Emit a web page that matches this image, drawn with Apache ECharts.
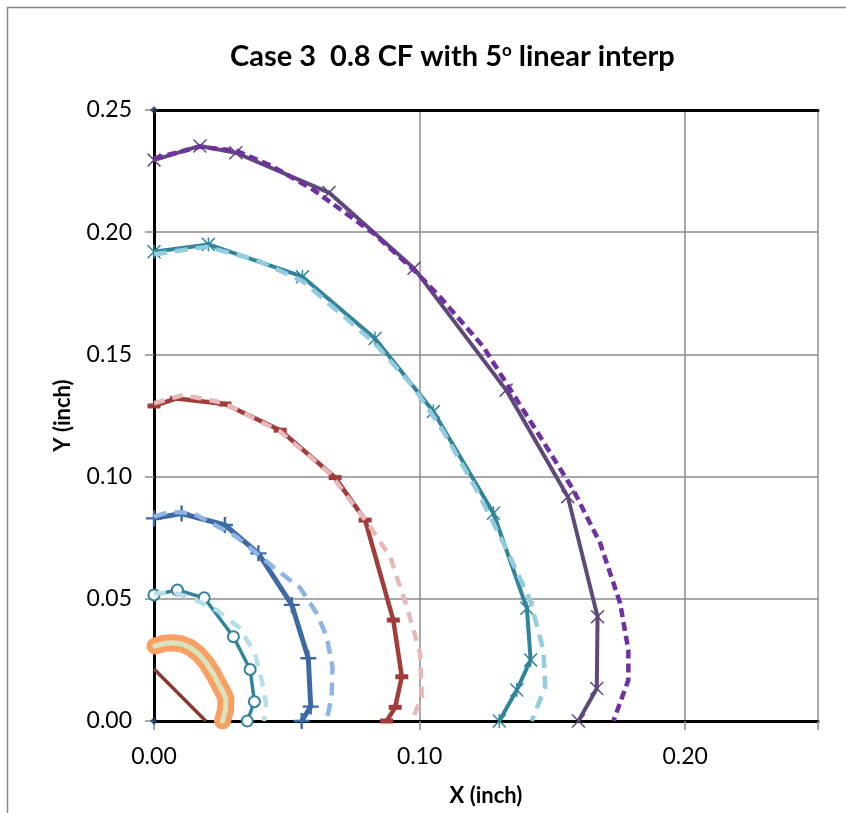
<!DOCTYPE html>
<html>
<head>
<meta charset="utf-8">
<script src="https://cdn.jsdelivr.net/npm/echarts@6/dist/echarts.min.js"></script>
<style>
  html, body { margin: 0; padding: 0; background: #fff; overflow: hidden; }
  #chart { width: 846px; height: 813px; }
</style>
</head>
<body>
<div id="chart"></div>
<script>
// Axis ticks
const xTicks = [0, 0.10, 0.20];
const yTicks = [0, 0.05, 0.10, 0.15, 0.20, 0.25];

// Reference corner points on the Y axis
const originMarks = [[0, 0], [0, 0.25]];

// Innermost straight chord
const chordLine = [[0, 0.0213], [0.0195, 0]];

// Smallest contour (thick band)
const innerBand = [[0.0004, 0.0307], [0.0040, 0.0318], [0.0073, 0.0320], [0.0105, 0.0315],
  [0.0136, 0.0301], [0.0168, 0.0274], [0.0198, 0.0236], [0.0222, 0.0195],
  [0.0242, 0.0154], [0.0260, 0.0118], [0.0271, 0.0090], [0.0269, 0.0045], [0.0258, 0]];

// Contour 2 : computed (circles) and reference (dashed)
const ring2Calc = [[0, 0.0516], [0.0088, 0.0536], [0.0189, 0.0504], [0.0299, 0.0345],
  [0.0362, 0.0211], [0.0378, 0.0079], [0.0351, 0]];
const ring2Ref = [[0, 0.0522], [0.0073, 0.0525], [0.0136, 0.0505], [0.0236, 0.0454],
  [0.0324, 0.0379], [0.0380, 0.0277], [0.0405, 0.0168], [0.0422, 0.0072], [0.0414, 0]];

// Contour 3 : computed (plus) and reference (dashed)
const ring3Calc = [[0, 0.0829], [0.0104, 0.0849], [0.0267, 0.0802], [0.0393, 0.0686],
  [0.0519, 0.0475], [0.0581, 0.0257], [0.0590, 0.0059], [0.0556, 0]];
const ring3Ref = [[0, 0.0836], [0.0060, 0.0856], [0.0148, 0.0850], [0.0311, 0.0754],
  [0.0449, 0.0630], [0.0550, 0.0545], [0.0613, 0.0440], [0.0650, 0.0345],
  [0.0672, 0.0222], [0.0669, 0.0101], [0.0650, 0]];

// Contour 4 : computed (dash) and reference (dashed)
const ring4Calc = [[0, 0.1289], [0.0085, 0.1320], [0.0267, 0.1297], [0.0475, 0.1190],
  [0.0682, 0.0996], [0.0795, 0.0822], [0.0901, 0.0413], [0.0933, 0.0181],
  [0.0908, 0.0056], [0.0876, 0]];
const ring4Ref = [[0, 0.1300], [0.0110, 0.1334], [0.0261, 0.1302], [0.0475, 0.1184],
  [0.0663, 0.1012], [0.0738, 0.0904], [0.0814, 0.0795], [0.0889, 0.0672],
  [0.0952, 0.0468], [0.1002, 0.0277], [0.1008, 0.0099], [0.0970, 0]];

// Contour 5 : computed (star) and reference (dashed)
const ring5Calc = [[0, 0.1920], [0.0205, 0.1950], [0.0559, 0.1818], [0.0832, 0.1565],
  [0.1052, 0.1266], [0.1278, 0.0850], [0.1404, 0.0461], [0.1418, 0.0250],
  [0.1366, 0.0127], [0.1300, 0]];
const ring5Ref = [[0, 0.1910], [0.0198, 0.1940], [0.0387, 0.1886], [0.0562, 0.1798],
  [0.0826, 0.1551], [0.0977, 0.1367], [0.1090, 0.1184], [0.1215, 0.0945],
  [0.1328, 0.0700], [0.1416, 0.0495], [0.1466, 0.0290], [0.1473, 0.0140], [0.1422, 0]];

// Contour 6 : computed (x) and reference (dashed)
const ring6Calc = [[0, 0.2295], [0.0173, 0.2353], [0.0308, 0.2325], [0.0659, 0.2162],
  [0.0979, 0.1852], [0.1326, 0.1354], [0.1558, 0.0918], [0.1670, 0.0427],
  [0.1667, 0.0133], [0.1598, 0]];
const ring6Ref = [[0, 0.2302], [0.0173, 0.2350], [0.0311, 0.2333], [0.0449, 0.2268],
  [0.0600, 0.2173], [0.0826, 0.1996], [0.0979, 0.1845], [0.1077, 0.1735],
  [0.1240, 0.1531], [0.1454, 0.1163], [0.1579, 0.0945], [0.1680, 0.0727],
  [0.1755, 0.0482], [0.1786, 0.0290], [0.1786, 0.0168], [0.1730, 0]];

// Marker glyphs
const SYM_PLUS = 'path://M0,8.5L20,8.5L20,11.5L0,11.5Z M8.5,0L11.5,0L11.5,20L8.5,20Z';
const SYM_X = 'path://M1.5,0L10,8.5L18.5,0L20,1.5L11.5,10L20,18.5L18.5,20L10,11.5L1.5,20L0,18.5L8.5,10L0,1.5Z';
const SYM_STAR = SYM_X + ' M9,0L11,0L11,20L9,20Z';
const SYM_DASH = 'path://M0,0L20,0L20,7L0,7Z';

const FONT = 'Lato, "Open Sans", sans-serif';

function solid(data, color, width, symbol, size, extra) {
  return Object.assign({
    type: 'line', data: data, symbol: symbol || 'none', symbolSize: size || 0,
    showSymbol: !!symbol, lineStyle: { color: color, width: width, join: 'round' },
    itemStyle: { color: color }, z: 3
  }, extra || {});
}
function dashed(data, color, width, dash) {
  return {
    type: 'line', data: data, symbol: 'none', showSymbol: false,
    lineStyle: { color: color, width: width, type: dash }, z: 4
  };
}

const chart = echarts.init(document.getElementById('chart'), null, { renderer: 'canvas' });
chart.setOption({
  animation: false,
  backgroundColor: '#ffffff',
  graphic: [{
    type: 'rect', shape: { x: 7.5, y: 7.5, width: 1000, height: 1000 },
    style: { fill: 'none', stroke: '#888888', lineWidth: 1.5 }, z: -10
  }],
  title: {
    text: 'Case 3  0.8 CF with 5{sup|o} linear interp',
    left: 225, top: 37,
    textStyle: {
      fontFamily: FONT, fontSize: 29, fontWeight: 'bold', color: '#000',
      rich: {
        sup: { fontFamily: FONT, fontSize: 17, fontWeight: 'bold', color: '#000', verticalAlign: 'top', padding: [0, 0, 12, 0] }
      }
    }
  },
  grid: { left: 154, right: 28, top: 110, bottom: 92, containLabel: false },
  xAxis: [{
    type: 'value', min: 0, max: 0.25, interval: 0.1,
    name: 'X (inch)', nameLocation: 'middle', nameGap: 64,
    nameTextStyle: { fontFamily: FONT, fontSize: 22, fontWeight: 'bold', color: '#000' },
    axisLine: { show: true, onZero: false, lineStyle: { color: '#000', width: 3 } },
    axisTick: { show: true, length: 9, lineStyle: { color: '#8c8c8c', width: 1.5 } },
    axisLabel: { margin: 24, fontFamily: FONT, fontSize: 23, color: '#000',
      formatter: v => xTicks.some(t => Math.abs(t - v) < 1e-9) ? v.toFixed(2) : '' },
    splitLine: { show: true, lineStyle: { color: '#8c8c8c', width: 1.5 } }
  }, {
    type: 'value', min: 0, max: 0.25, position: 'top',
    axisLine: { show: true, onZero: false, lineStyle: { color: '#000', width: 3 } },
    axisTick: { show: false }, axisLabel: { show: false }, splitLine: { show: false }
  }],
  yAxis: {
    type: 'value', min: 0, max: 0.25, interval: 0.05,
    name: 'Y (inch)', nameLocation: 'middle', nameGap: 80,
    nameTextStyle: { fontFamily: FONT, fontSize: 22, fontWeight: 'bold', color: '#000' },
    axisLine: { show: true, onZero: false, lineStyle: { color: '#000', width: 3 } },
    axisTick: { show: true, length: 9, lineStyle: { color: '#8c8c8c', width: 1.5 } },
    axisLabel: { margin: 22, fontFamily: FONT, fontSize: 23, color: '#000',
      formatter: v => yTicks.some(t => Math.abs(t - v) < 1e-9) ? v.toFixed(2) : '' },
    splitLine: { show: true, lineStyle: { color: '#8c8c8c', width: 1.5 } }
  },
  series: [
    solid(chordLine, '#8b3a32', 3.5),
    solid(innerBand, '#f9a66c', 17, null, 0, { lineStyle: { color: '#f8a064', width: 17, cap: 'round', join: 'round' } }),
    solid(innerBand, '#d7e4bd', 5, null, 0, { lineStyle: { color: '#d7e4bd', width: 5, cap: 'round', join: 'round' }, z: 4 }),
    solid(ring2Calc, '#31849b', 3.5, 'emptyCircle', 11, { itemStyle: { color: '#31849b', borderWidth: 1.8 } }),
    dashed(ring2Ref, '#b7dee8', 4.5, [12, 9]),
    solid(ring3Calc, '#3e6aa3', 5, SYM_PLUS, 16),
    dashed(ring3Ref, '#8eb4e3', 4.5, [13, 8]),
    solid(ring4Calc, '#a03c3a', 4.5, SYM_DASH, [13, 5]),
    dashed(ring4Ref, '#e6b9b8', 4.5, [11, 8]),
    solid(ring5Calc, '#31849b', 4, SYM_STAR, 14),
    dashed(ring5Ref, '#93cddd', 4.5, [13, 8]),
    solid(ring6Calc, '#5f497a', 4, SYM_X, 14),
    dashed(ring6Ref, '#7030a0', 4.5, [9, 5]),
    { type: 'scatter', data: originMarks, symbol: 'diamond', symbolSize: 8,
      itemStyle: { color: '#1f3864' }, z: 6 }
  ]
});
</script>
</body>
</html>
